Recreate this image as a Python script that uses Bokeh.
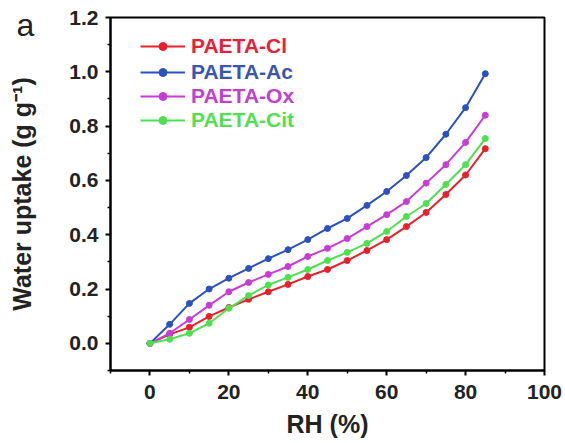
from bokeh.plotting import figure
from bokeh.models import (Range1d, FixedTicker, NumeralTickFormatter,
                          Legend, LegendItem, Label)
from bokeh.embed import file_html
from bokeh.resources import INLINE

rh = [0, 5, 10, 15, 20, 25, 30, 35, 40, 45, 50, 55, 60, 65, 70, 75, 80, 85]
paeta_cl = [0.0, 0.033, 0.059, 0.099, 0.132, 0.162, 0.19, 0.217, 0.246, 0.272,
            0.305, 0.342, 0.382, 0.43, 0.482, 0.548, 0.62, 0.717]
paeta_ac = [0.0, 0.07, 0.147, 0.20, 0.24, 0.276, 0.312, 0.345, 0.382, 0.423,
            0.46, 0.508, 0.559, 0.618, 0.684, 0.77, 0.868, 0.993]
paeta_ox = [0.0, 0.037, 0.088, 0.14, 0.19, 0.224, 0.254, 0.283, 0.32, 0.35,
            0.386, 0.43, 0.474, 0.522, 0.59, 0.658, 0.74, 0.84]
paeta_cit = [0.0, 0.015, 0.037, 0.074, 0.129, 0.176, 0.215, 0.243, 0.272, 0.305,
             0.335, 0.368, 0.412, 0.467, 0.515, 0.585, 0.658, 0.754]

x_major = [0, 20, 40, 60, 80, 100]
x_minor = [-10, 10, 30, 50, 70, 90]
y_major = [0.0, 0.2, 0.4, 0.6, 0.8, 1.0, 1.2]
y_minor = [-0.1, 0.1, 0.3, 0.5, 0.7, 0.9, 1.1]

names = ["PAETA-Cl", "PAETA-Ac", "PAETA-Ox", "PAETA-Cit"]
series = [paeta_cl, paeta_ac, paeta_ox, paeta_cit]
colors = ["#E8202C", "#2B50C0", "#C83CD6", "#4EE050"]
text_colors = ["#E8203A", "#3A56B0", "#C040D0", "#50E050"]

FONT = "Liberation Sans"

p = figure(width=562, height=440, output_backend="svg", toolbar_location=None,
           x_range=Range1d(-10, 100), y_range=Range1d(-0.1, 1.2),
           min_border_left=110, min_border_right=12, min_border_top=17,
           min_border_bottom=70)
p.grid.visible = False
p.outline_line_color = "black"
p.outline_line_width = 2
p.background_fill_color = "white"
p.border_fill_color = "white"

p.xaxis.ticker = FixedTicker(ticks=x_major, minor_ticks=x_minor)
p.yaxis.ticker = FixedTicker(ticks=y_major, minor_ticks=y_minor)
p.yaxis.formatter = NumeralTickFormatter(format="0.0")

for ax in (p.xaxis[0], p.yaxis[0]):
    ax.axis_line_width = 2
    ax.axis_line_color = "black"
    ax.major_tick_in = 0
    ax.major_tick_out = 5
    ax.minor_tick_in = 0
    ax.minor_tick_out = 3
    ax.major_tick_line_width = 2
    ax.minor_tick_line_width = 1.5
    ax.major_label_text_font = FONT
    ax.major_label_text_font_style = "bold"
    ax.major_label_text_font_size = "21px"
    ax.major_label_text_color = "#222222"
    ax.axis_label_text_font = FONT
    ax.axis_label_text_font_style = "bold"
    ax.axis_label_text_font_size = "25px"
    ax.axis_label_text_color = "#222222"

p.xaxis.axis_label = "RH (%)"
p.yaxis.axis_label = "Water uptake (g g\u207b\u00b9)"
p.xaxis.major_label_standoff = 9
p.yaxis.major_label_standoff = 7
p.xaxis.axis_label_standoff = 8
p.yaxis.axis_label_standoff = 30

renderers = []
for name, ys, c in zip(names, series, colors):
    lr = p.line(rh, ys, line_color=c, line_width=2)
    sr = p.scatter(rh, ys, marker="circle", size=6, fill_color=c, line_color=c)
    renderers.append((lr, sr))

frame_h = 353
row_centers = [28, 54, 78, 102]
for (lr, sr), name, tc, rc in zip(renderers, names, text_colors, row_centers):
    leg = Legend(items=[LegendItem(label=name, renderers=[lr, sr])],
                 location=(30, frame_h - rc - 13),
                 glyph_width=45, glyph_height=20, label_standoff=6,
                 padding=0, margin=0, spacing=0,
                 border_line_color=None, background_fill_alpha=0,
                 label_text_font=FONT, label_text_font_style="bold",
                 label_text_font_size="21px", label_text_color=tc,
                 label_height=20)
    p.add_layout(leg)

# panel label "a": hosted in the right side panel so it is not clipped to the frame
p.add_layout(Label(x=-33.8, y=1.174, text="a", text_font=FONT,
                   text_font_size="32px", text_color="#222222",
                   text_baseline="alphabetic"), "right")

open("out.html", "w").write(file_html(p, INLINE))
